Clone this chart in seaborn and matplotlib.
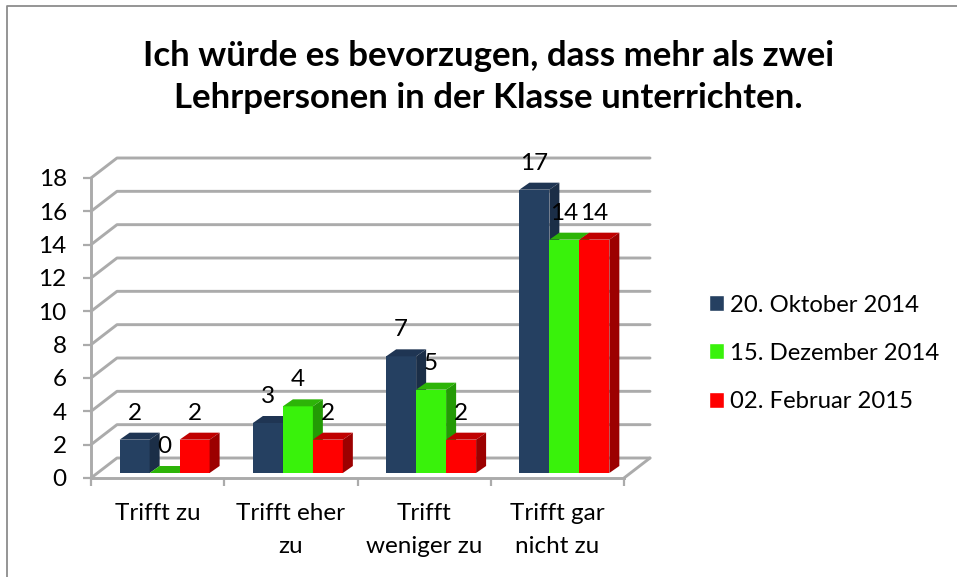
import matplotlib
matplotlib.use('Agg')
import matplotlib.pyplot as plt
import pandas as pd
import seaborn as sns
from matplotlib.lines import Line2D
from matplotlib.patches import Polygon

categories = ['Trifft zu', 'Trifft eher\nzu', 'Trifft\nweniger zu', 'Trifft gar\nnicht zu']
okt_2014 = [2, 3, 7, 17]
dez_2014 = [0, 4, 5, 14]
feb_2015 = [2, 2, 2, 14]
series_names = ['20. Oktober 2014', '15. Dezember 2014', '02. Februar 2015']
y_ticks = list(range(0, 19, 2))
title = 'Ich würde es bevorzugen, dass mehr als zwei\nLehrpersonen in der Klasse unterrichten.'

front_colors = ['#254061', '#39F20B', '#FF0000']
top_colors = ['#1F3553', '#2DB408', '#C00000']
side_colors = ['#1B2E47', '#239A05', '#9C0000']
grid_color = '#ABABAB'

W, H = 957, 577
sns.set_theme(style='white')
plt.rcParams['font.family'] = ['Lato', 'DejaVu Sans']

df = pd.DataFrame({
    'kategorie': categories * 3,
    'wert': okt_2014 + dez_2014 + feb_2015,
    'datum': [n for n in series_names for _ in categories],
})

fig = plt.figure(figsize=(W / 100, H / 100), dpi=100, facecolor='white')
ax = fig.add_axes([91 / W, 1 - 478 / H, 533 / W, 300 / H])

sns.barplot(data=df, x='kategorie', y='wert', hue='datum', palette=front_colors,
            width=0.675, gap=0, saturation=1, errorbar=None, ax=ax)

ax.set_xlim(-0.5, 3.5)
ax.set_ylim(0, 18)
px_x = 4 / 533
px_y = 18 / 300

# back wall, floor
wall_dx, wall_dy = 26 * px_x, 20 * px_y
for v in y_ticks:
    ax.plot([-0.5, -0.5 + wall_dx, 3.5 + wall_dx], [v, v + wall_dy, v + wall_dy],
            color=grid_color, lw=2.1, clip_on=False, zorder=1)
ax.plot([3.5, 3.5 + wall_dx], [0, wall_dy], color=grid_color, lw=2.1, clip_on=False, zorder=1)

# fake 3d: move faces off the axis, add top and side
shift_x, shift_y = 7 * px_x, 5 * px_y
dx, dy = 10 * px_x, 7 * px_y
for j, (cont, values) in enumerate(zip(ax.containers, [okt_2014, dez_2014, feb_2015])):
    for bar in cont:
        bar.set_x(bar.get_x() + shift_x)
        bar.set_y(shift_y)
        bar.set_clip_on(False)
        bar.set_linewidth(0)
        bar.set_zorder(3 + j)
        x0, x1 = bar.get_x(), bar.get_x() + bar.get_width()
        y0, y1 = bar.get_y(), bar.get_y() + bar.get_height()
        ax.add_patch(Polygon([(x0, y1), (x1, y1), (x1 + dx, y1 + dy), (x0 + dx, y1 + dy)],
                             fc=top_colors[j], lw=0, clip_on=False, zorder=3 + j))
        ax.add_patch(Polygon([(x1, y0), (x1 + dx, y0 + dy), (x1 + dx, y1 + dy), (x1, y1)],
                             fc=side_colors[j], lw=0, clip_on=False, zorder=3 + j))
    labels = ax.bar_label(cont, labels=[str(v) for v in values], padding=11.5, fontsize=17.5,
                          color='black', zorder=10)
    for t in labels:
        t.set_clip_on(False)

ax.set_xlim(-0.5, 3.5)
ax.set_ylim(0, 18)
ax.set_xlabel('')
ax.set_ylabel('')
ax.set_yticks(y_ticks)
ax.set_xticks([-0.5, 0.5, 1.5, 2.5, 3.5], minor=True)
ax.tick_params(axis='y', which='major', left=True, length=5.5, width=1.6, color=grid_color,
               labelsize=17.5, labelcolor='black', pad=12)
ax.tick_params(axis='x', which='major', bottom=False, labelsize=17.5, labelcolor='black', pad=12)
ax.tick_params(axis='x', which='minor', bottom=True, length=5.5, width=1.6, color=grid_color)
for lab in ax.get_xticklabels():
    lab.set_linespacing(1.7)
for name in ['top', 'right']:
    ax.spines[name].set_visible(False)
for name in ['left', 'bottom']:
    ax.spines[name].set_color(grid_color)
    ax.spines[name].set_linewidth(2.1)
ax.patch.set_alpha(0)

sns.move_legend(ax, loc='upper left', bbox_to_anchor=(699 / W, 1 - 285 / H),
                bbox_transform=fig.transFigure, title=None, frameon=False, fontsize=17.2,
                labelcolor='black', handlelength=0.64, handleheight=0.64, handletextpad=0.27,
                labelspacing=1.14, borderpad=0.4, borderaxespad=0)

fig.text(488 / W, 1 - 77 / H, title, ha='center', va='center', fontsize=25.1,
         fontweight='bold', color='black', linespacing=1.36)

# chart frame, only top and left are in the crop
fig.add_artist(Line2D([7 / W, 7 / W, 1], [0, 1 - 6 / H, 1 - 6 / H], color='#8C8C8C', lw=1.3))

fig.savefig('out.png', dpi=100)
plt.close(fig)
